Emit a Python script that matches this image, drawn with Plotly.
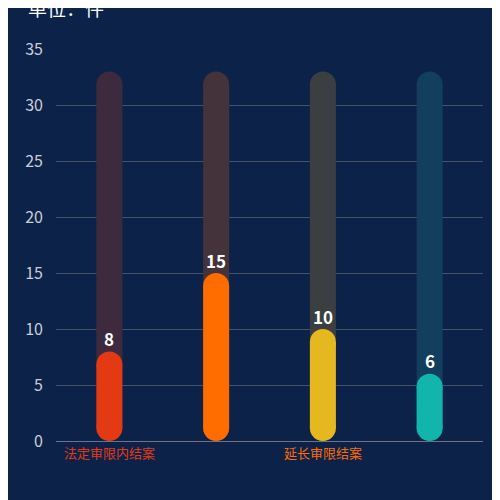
import plotly.graph_objects as go

categorias = ['法定审限内结案', '类别2', '延长审限结案', '类别4']
valores = [8, 15, 10, 6]
fondo_max = [33, 33, 33, 33]
colores = ['#e33a14', '#ff6c00', '#e5b820', '#12b5ac']
colores_fondo = ['#3d2a3f', '#45333b', '#3c3f42', '#133f5e']
etiquetas = ['<span style="color:#e33a14">法定审限内结案</span>', '',
             '<span style="color:#ff6c00">延长审限结案</span>', '']

ancho_px = 26
radio = 13 / (392 / 35)  # radio en unidades del eje y
fig = go.Figure()


def pildora(i, v, col):
	# linea gruesa con circulos en los extremos
	fig.add_scatter(x=[i, i], y=[radio, v - radio], mode='lines+markers',
		line=dict(color=col, width=ancho_px),
		marker=dict(color=col, size=ancho_px, line_width=0), hoverinfo='skip')


for i in range(len(categorias)):
	pildora(i, fondo_max[i], colores_fondo[i])
for i in range(len(categorias)):
	pildora(i, valores[i], colores[i])

for i, v in enumerate(valores):
	fig.add_annotation(x=i, y=v, text='<b>%d</b>' % v, showarrow=False, yshift=13,
		font=dict(color='white', size=17))

fig.add_annotation(xref='paper', yref='paper', x=-0.07, y=1.145, xanchor='left',
	text='单位：件', showarrow=False, font=dict(color='white', size=19))

fig.update_layout(
	width=500, height=500, showlegend=False,
	paper_bgcolor='#0d2249', plot_bgcolor='#0d2249',
	margin=dict(l=48, r=25, t=41, b=67),
	font=dict(family='Noto Sans CJK SC', color='#c8cdd8', size=16),
	xaxis=dict(tickvals=list(range(len(categorias))), ticktext=etiquetas, range=[-0.5, 3.5],
		showgrid=False, zeroline=False, showline=True, linecolor='#6b7385',
		tickfont=dict(size=13), ticks=''),
	yaxis=dict(range=[0, 35], dtick=5, gridcolor='#46516c', zeroline=False,
		ticklabelstandoff=12),
)

fig.write_html('out.html')
